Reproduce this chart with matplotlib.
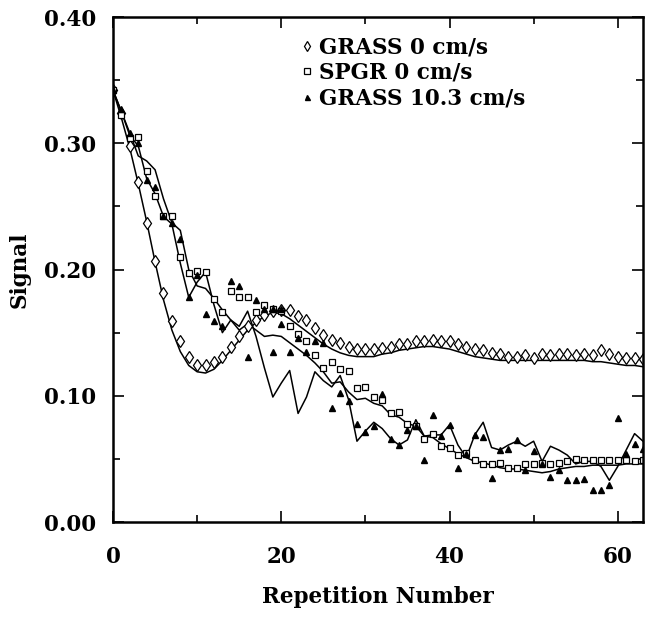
import numpy as np
import matplotlib
matplotlib.use("Agg")
import matplotlib.pyplot as plt

plt.rcParams['font.family'] = ['DejaVu Serif']
plt.rcParams['font.weight'] = 'bold'

rep = np.arange(64)

# measured signal
grass0 = [0.342, 0.324, 0.298, 0.269, 0.237, 0.207, 0.181, 0.159, 0.143, 0.131,
          0.124, 0.124, 0.127, 0.131, 0.139, 0.147, 0.155, 0.160, 0.164, 0.167,
          0.168, 0.168, 0.163, 0.160, 0.154, 0.148, 0.144, 0.142, 0.139, 0.137,
          0.137, 0.137, 0.138, 0.139, 0.141, 0.141, 0.143, 0.143, 0.144, 0.143,
          0.143, 0.141, 0.139, 0.137, 0.136, 0.134, 0.133, 0.131, 0.131, 0.132,
          0.130, 0.133, 0.132, 0.133, 0.133, 0.132, 0.133, 0.132, 0.136, 0.133,
          0.131, 0.130, 0.130, 0.129]
spgr0 = [0.342, 0.322, 0.304, 0.305, 0.278, 0.258, 0.242, 0.242, 0.210, 0.197,
         0.199, 0.198, 0.177, 0.166, 0.183, 0.178, 0.178, 0.166, 0.172, 0.169,
         0.167, 0.155, 0.149, 0.143, 0.132, 0.122, 0.127, 0.121, 0.120, 0.106,
         0.107, 0.099, 0.097, 0.086, 0.087, 0.078, 0.076, 0.066, 0.070, 0.060,
         0.059, 0.053, 0.055, 0.049, 0.046, 0.046, 0.047, 0.043, 0.043, 0.046,
         0.046, 0.047, 0.046, 0.047, 0.048, 0.050, 0.049, 0.049, 0.049, 0.049,
         0.049, 0.049, 0.048, 0.049]
flow_rep = [0, 1, 2, 3, 4, 5, 6, 7, 8, 9, 10, 11, 12, 13, 14, 15, 16, 17, 18, 19,
            19, 20, 20, 21, 22, 23, 24, 25, 26, 27, 28, 29, 30, 31, 32, 33, 34, 35,
            36, 37, 38, 39, 40, 41, 42, 43, 44, 45, 46, 47, 48, 49, 50, 51, 52, 53,
            54, 55, 56, 57, 58, 59, 60, 61, 62, 63]
grass_flow = [0.342, 0.327, 0.308, 0.300, 0.271, 0.265, 0.242, 0.237, 0.224, 0.178,
              0.196, 0.165, 0.159, 0.155, 0.191, 0.187, 0.131, 0.176, 0.169, 0.169,
              0.135, 0.169, 0.157, 0.135, 0.146, 0.135, 0.143, 0.142, 0.090, 0.102,
              0.096, 0.078, 0.071, 0.076, 0.101, 0.066, 0.061, 0.073, 0.076, 0.049,
              0.085, 0.068, 0.077, 0.043, 0.054, 0.069, 0.067, 0.035, 0.057, 0.058,
              0.065, 0.041, 0.056, 0.046, 0.036, 0.041, 0.033, 0.033, 0.034, 0.025,
              0.025, 0.029, 0.082, 0.054, 0.062, 0.058]

# simulated signal
sim_grass0 = [0.342, 0.320, 0.296, 0.268, 0.238, 0.206, 0.176, 0.152, 0.135, 0.124,
              0.119, 0.118, 0.121, 0.128, 0.136, 0.144, 0.152, 0.158, 0.163, 0.166,
              0.165, 0.161, 0.156, 0.151, 0.146, 0.141, 0.137, 0.134, 0.132, 0.131,
              0.131, 0.131, 0.133, 0.134, 0.136, 0.137, 0.138, 0.139, 0.139, 0.138,
              0.137, 0.135, 0.133, 0.131, 0.130, 0.129, 0.128, 0.128, 0.128, 0.128,
              0.128, 0.128, 0.128, 0.128, 0.128, 0.128, 0.128, 0.127, 0.127, 0.126,
              0.125, 0.124, 0.124, 0.123]
sim_spgr0 = [0.342, 0.325, 0.308, 0.290, 0.286, 0.279, 0.256, 0.237, 0.231, 0.200,
             0.187, 0.185, 0.177, 0.168, 0.160, 0.152, 0.157, 0.152, 0.147, 0.148,
             0.147, 0.142, 0.137, 0.132, 0.126, 0.119, 0.110, 0.111, 0.103, 0.097,
             0.098, 0.094, 0.092, 0.085, 0.083, 0.078, 0.076, 0.068, 0.067, 0.062,
             0.058, 0.054, 0.051, 0.048, 0.047, 0.045, 0.043, 0.042, 0.042, 0.041,
             0.040, 0.039, 0.040, 0.042, 0.043, 0.044, 0.044, 0.045, 0.045, 0.045,
             0.045, 0.046, 0.046, 0.046]
sim_flow = [0.342, 0.325, 0.306, 0.298, 0.272, 0.260, 0.242, 0.236, 0.205, 0.178,
            0.190, 0.198, 0.172, 0.150, 0.160, 0.155, 0.167, 0.147, 0.122, 0.099,
            0.110, 0.120, 0.086, 0.099, 0.119, 0.112, 0.107, 0.116, 0.097, 0.064,
            0.072, 0.079, 0.074, 0.066, 0.061, 0.065, 0.081, 0.068, 0.069, 0.069,
            0.077, 0.061, 0.051, 0.069, 0.079, 0.059, 0.057, 0.061, 0.064, 0.060,
            0.064, 0.048, 0.060, 0.057, 0.053, 0.046, 0.048, 0.048, 0.044, 0.033,
            0.044, 0.057, 0.070, 0.064]

fig = plt.figure(figsize=(6.51, 6.19), dpi=100)
ax = fig.add_axes([0.1736, 0.1567, 0.8141, 0.8158])

for sim in (sim_grass0, sim_spgr0, sim_flow):
    ax.plot(rep, sim, color='black', lw=1.1)

ax.plot(rep, grass0, linestyle='none', marker='d', ms=6, mfc='white', mec='black',
        mew=0.9, label='GRASS 0 cm/s')
ax.plot(rep, spgr0, linestyle='none', marker='s', ms=5, mfc='white', mec='black',
        mew=0.9, label='SPGR 0 cm/s')
ax.plot(flow_rep, grass_flow, linestyle='none', marker='^', ms=4.5, color='black',
        label='GRASS 10.3 cm/s')

ax.set_xlim(0, 63)
ax.set_ylim(0, 0.40)
ax.set_xticks([0, 20, 40, 60])
ax.set_xticks([10, 30, 50], minor=True)
ax.set_yticks([0, 0.1, 0.2, 0.3, 0.4])
ax.set_yticks([0.05, 0.15, 0.25, 0.35], minor=True)
ax.set_yticklabels(['0.00', '0.10', '0.20', '0.30', '0.40'])
ax.tick_params(which='both', direction='in', top=True, right=True, labelsize=15.5, width=1.2)
ax.tick_params(which='major', length=8)
ax.tick_params(which='minor', length=5)
ax.tick_params(axis='x', pad=17)
ax.tick_params(axis='y', pad=12)
for s in ax.spines.values():
    s.set_linewidth(1.8)

ax.set_xlabel('Repetition Number', fontsize=15.5, fontweight='bold', labelpad=13)
ax.set_ylabel('Signal', fontsize=15.5, fontweight='bold', labelpad=10)

leg = ax.legend(loc='upper left', bbox_to_anchor=(0.34, 0.978), frameon=False,
                fontsize=15.5, handlelength=0.5, handletextpad=0.3, labelspacing=0.15,
                markerscale=0.8, borderaxespad=0)

fig.savefig('out.png', dpi=100)
